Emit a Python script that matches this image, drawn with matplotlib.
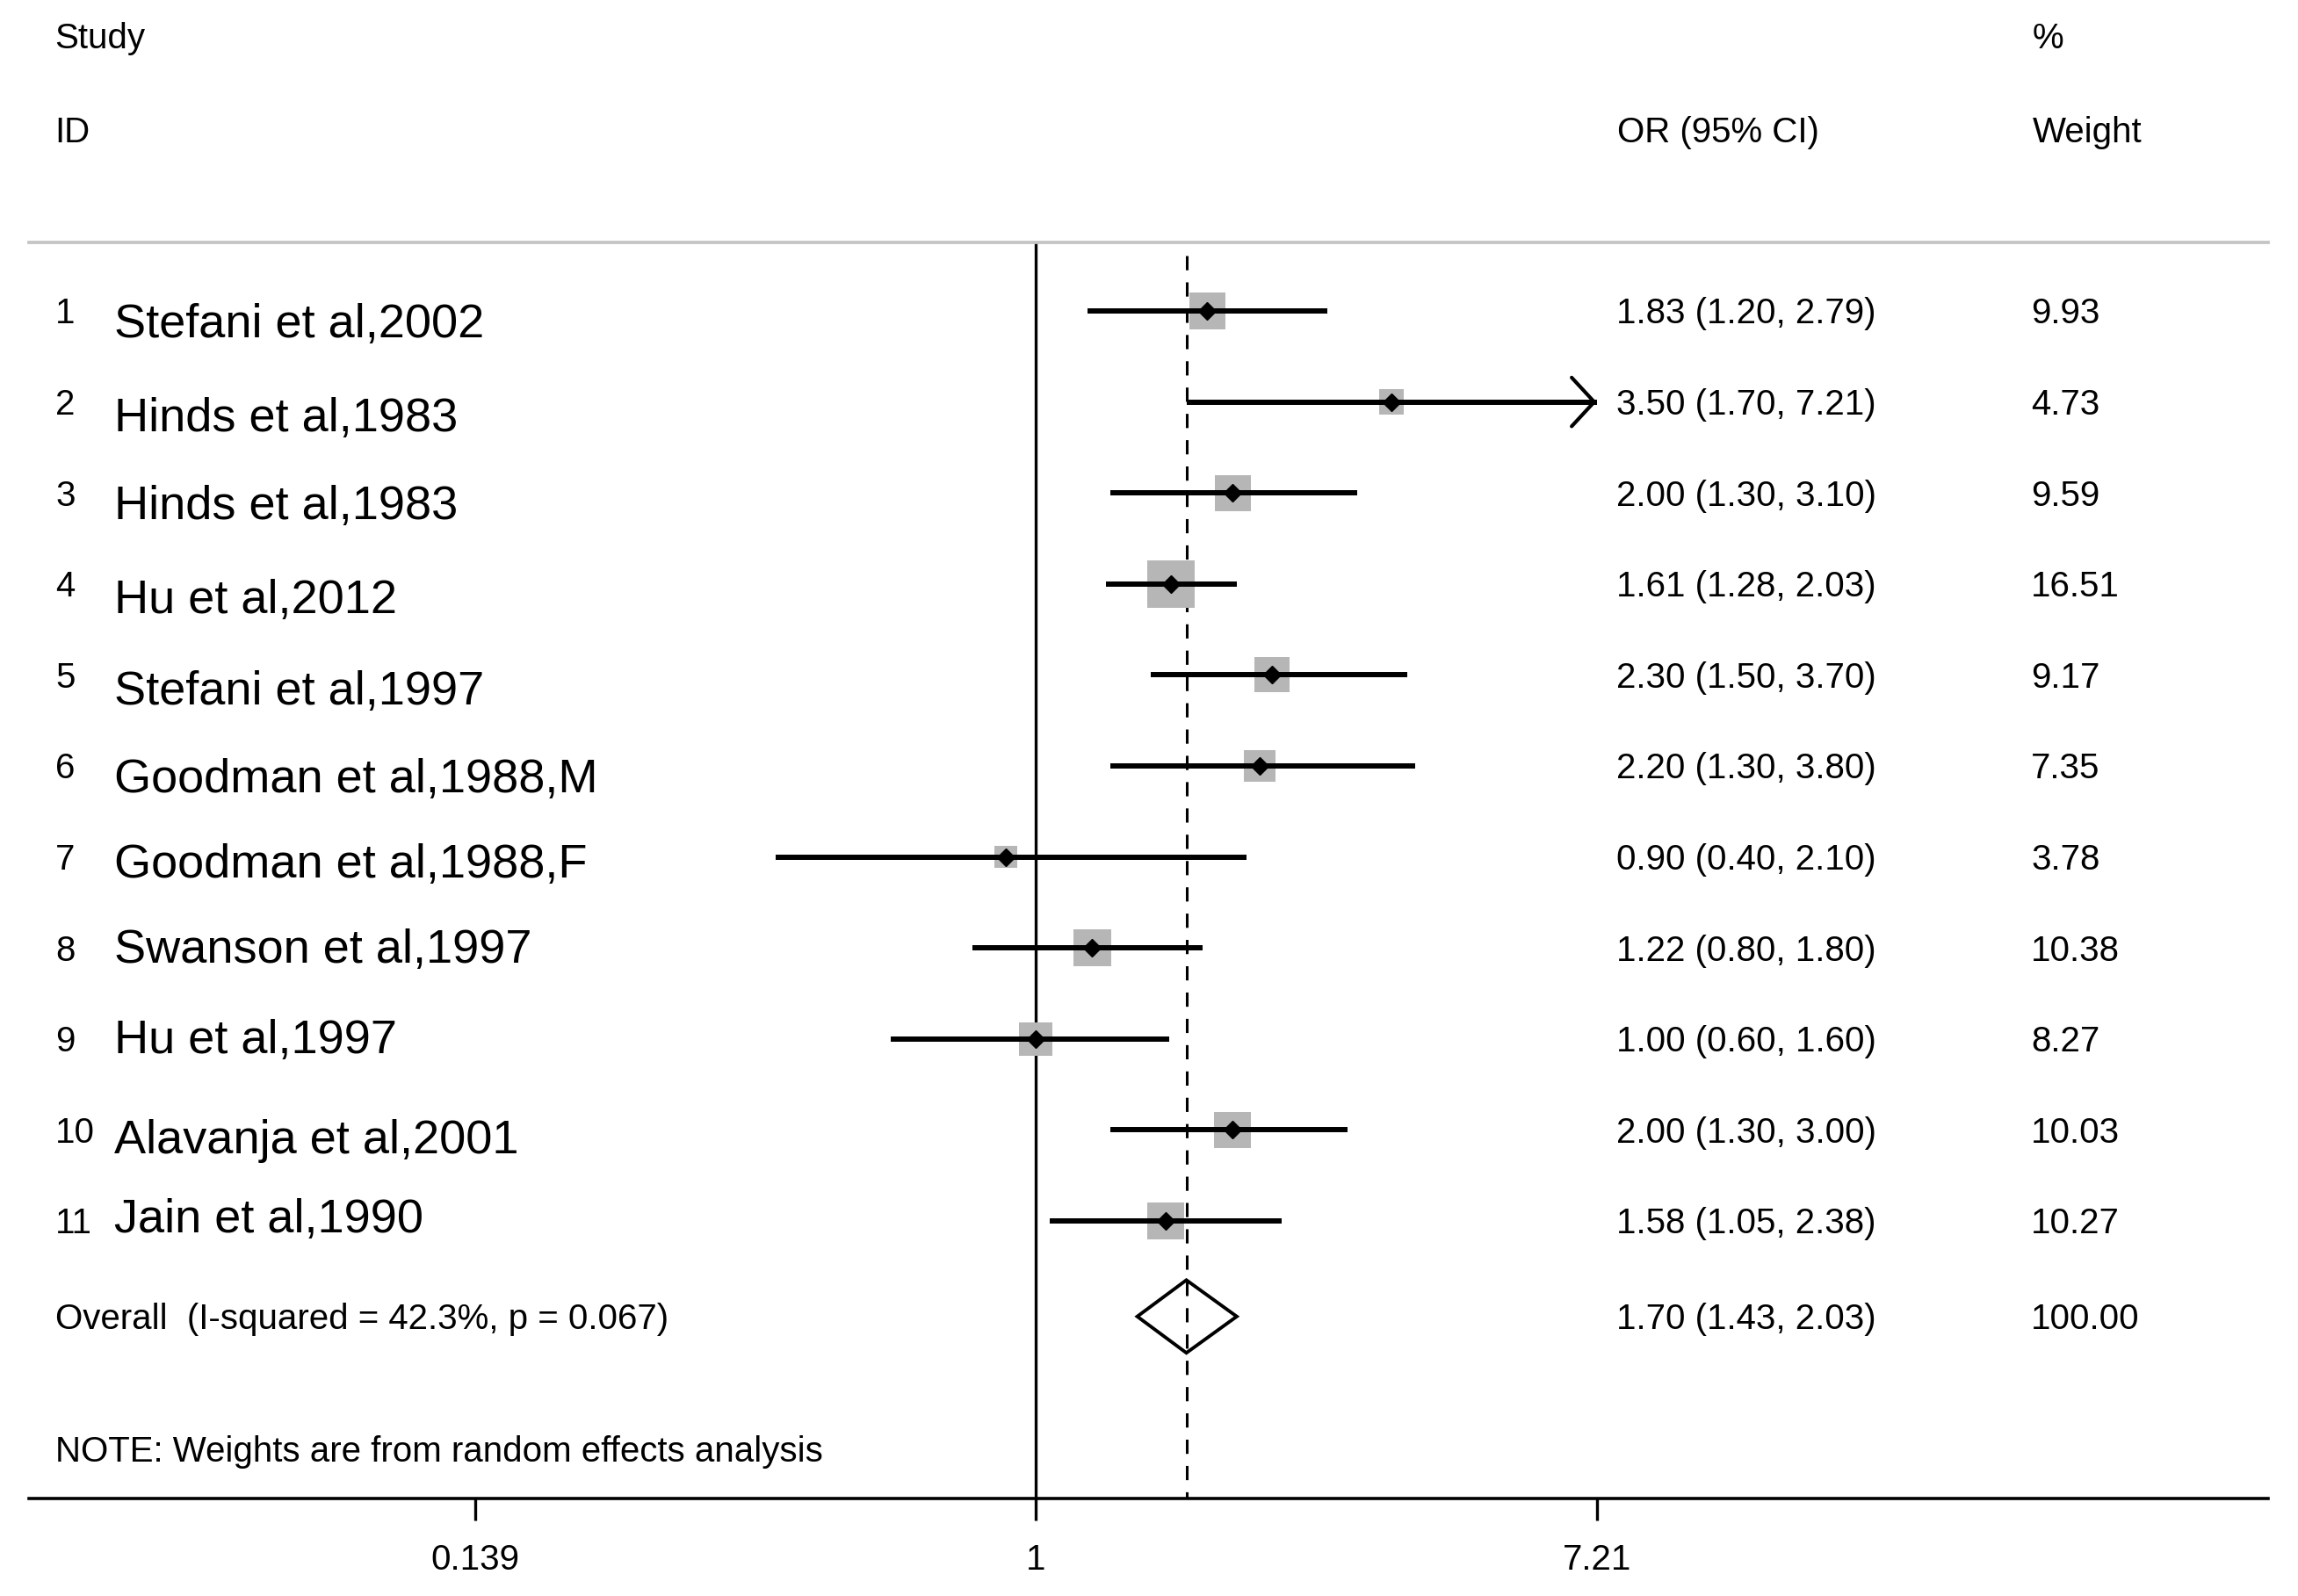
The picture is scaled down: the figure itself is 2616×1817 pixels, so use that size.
import numpy as np
import matplotlib
matplotlib.use("Agg")
import matplotlib.pyplot as plt
from matplotlib import transforms as mtrans

# ---------------- data ----------------
study_ids = ["1", "2", "3", "4", "5", "6", "7", "8", "9", "10", "11"]
study_names = ["Stefani et al,2002", "Hinds et al,1983", "Hinds et al,1983",
               "Hu et al,2012", "Stefani et al,1997", "Goodman et al,1988,M",
               "Goodman et al,1988,F", "Swanson et al,1997", "Hu et al,1997",
               "Alavanja et al,2001", "Jain et al,1990"]
or_est = [1.83, 3.50, 2.00, 1.61, 2.30, 2.20, 0.90, 1.22, 1.00, 2.00, 1.58]
ci_low = [1.20, 1.70, 1.30, 1.28, 1.50, 1.30, 0.40, 0.80, 0.60, 1.30, 1.05]
ci_high = [2.79, 7.21, 3.10, 2.03, 3.70, 3.80, 2.10, 1.80, 1.60, 3.00, 2.38]
weights = [9.93, 4.73, 9.59, 16.51, 9.17, 7.35, 3.78, 10.38, 8.27, 10.03, 10.27]

overall_label = "Overall  (I-squared = 42.3%, p = 0.067)"
overall_est = 1.70
overall_low = 1.43
overall_high = 2.03
overall_weight = 100.00

note_text = "NOTE: Weights are from random effects analysis"
tick_values = [0.139, 1, 7.21]
tick_labels = ["0.139", "1", "7.21"]

# ---------------- layout / style ----------------
W, H = 2616, 1817
DPI = 100
FONT = "Liberation Sans"
FS_SMALL = 29
FS_NAME = 39

AX_L, AX_R = 33, 2582        # px
AX_T, AX_B = 276, 1706       # px
ROW1_PX, ROW_STEP = 354, 103.6
K = 323.3                    # px per ln unit
X1_PX = 1179                 # px of OR = 1

def xf(px):
    return (px - AX_L) / (AX_R - AX_L)

def ydata(px):
    return 1 + (px - ROW1_PX) / ROW_STEP

fig = plt.figure(figsize=(W / DPI, H / DPI), dpi=DPI)
fig.patch.set_facecolor("white")
ax = fig.add_axes([AX_L / W, 1 - AX_B / H, (AX_R - AX_L) / W, (AX_B - AX_T) / H])
ax.set_xscale("log")
ax.set_xlim(np.exp((AX_L - X1_PX) / K), np.exp((AX_R - X1_PX) / K))
ax.set_ylim(ydata(AX_B), ydata(AX_T))

n = len(or_est)
rows = np.arange(1, n + 1)
overall_row = 12.05

# spines / ticks
for s in ("left", "right"):
    ax.spines[s].set_visible(False)
ax.spines["top"].set_color("#c4c4c4")
ax.spines["top"].set_linewidth(2.7)
ax.spines["bottom"].set_color("black")
ax.spines["bottom"].set_linewidth(2.6)
ax.set_yticks([])
ax.set_xticks(tick_values)
ax.set_xticklabels(tick_labels)
ax.xaxis.set_minor_locator(matplotlib.ticker.NullLocator())
ax.tick_params(axis="x", direction="out", length=18, width=2.4, pad=19,
               labelsize=FS_SMALL, color="black")
for lab in ax.get_xticklabels():
    lab.set_fontfamily(FONT)

# reference lines
ax.axvline(1, color="black", lw=2.4, zorder=1)
ax.vlines(overall_est, ydata(291), ydata(AX_B), colors="black", lw=2.2,
          linestyles=[(0, (5.3, 4.5))], zorder=1)

# weight boxes
ax.scatter(or_est, rows, s=[90.3 * w for w in weights], marker="s",
           color="#b6b6b6", linewidths=0, zorder=2)

# CI lines
ax.hlines(rows, ci_low, ci_high, colors="black", lw=4.3, zorder=3)
xmax_tick = max(tick_values)
for r, lo, hi in zip(rows, ci_low, ci_high):
    if hi >= xmax_tick:
        ax.annotate("", xy=(hi, r), xytext=(hi * 0.85, r),
                    arrowprops=dict(arrowstyle="->,head_length=1.85,head_width=2.0",
                                    lw=3.0, color="black", shrinkA=0, shrinkB=0,
                                    mutation_scale=10), zorder=4)

# point estimates
ax.plot(or_est, rows, linestyle="none", marker="D", ms=10, color="black", zorder=4)

# overall diamond
dh = 0.40
ax.fill([overall_low, overall_est, overall_high, overall_est],
        [overall_row, overall_row - dh, overall_row, overall_row + dh],
        facecolor="none", edgecolor="black", lw=2.8, zorder=4)

# ---------------- texts ----------------
blend = mtrans.blended_transform_factory(ax.transAxes, ax.transData)

def put(px, y, s, fs, **kw):
    tr = mtrans.offset_copy(blend, fig=fig, x=0, y=-0.358 * fs, units="points")
    ax.text(xf(px), y, s, fontsize=fs, family=FONT, va="baseline", ha="left",
            transform=tr, clip_on=False, **kw)

# headers
put(62, ydata(41), "Study", FS_SMALL)
put(62, ydata(148), "ID", FS_SMALL)
put(1841, ydata(148), "OR (95% CI)", FS_SMALL)
put(2314, ydata(41), "%", FS_SMALL)
put(2314, ydata(148), "Weight", FS_SMALL)

name_dy_px = [11, 14.5, 10.5, 14, 14, 11, 4, -3, -3, 7, -6]
for i in range(n):
    r = rows[i]
    put(63, r, study_ids[i], FS_SMALL)
    put(130, r + name_dy_px[i] / ROW_STEP, study_names[i], FS_NAME)
    put(1840, r, f"{or_est[i]:.2f} ({ci_low[i]:.2f}, {ci_high[i]:.2f})", FS_SMALL)
    put(2312, r, f"{weights[i]:.2f}", FS_SMALL)

put(63, overall_row, overall_label, FS_SMALL)
put(1840, overall_row, f"{overall_est:.2f} ({overall_low:.2f}, {overall_high:.2f})", FS_SMALL)
put(2312, overall_row, f"{overall_weight:.2f}", FS_SMALL)
put(63, ydata(1650), note_text, FS_SMALL)

fig.savefig("out.png", dpi=DPI, facecolor="white")
